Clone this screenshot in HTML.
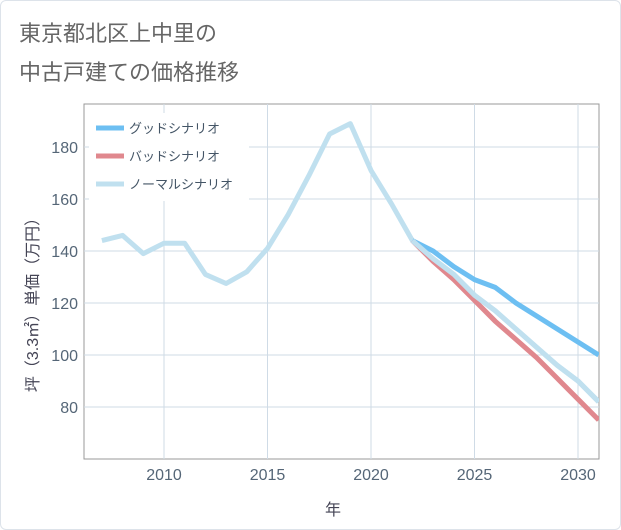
<!DOCTYPE html>
<html><head><meta charset="utf-8"><style>
body{margin:0;background:#fff;font-family:"Liberation Sans","Noto Sans CJK JP",sans-serif;}
#wrap{position:relative;width:619px;height:528px;border:1px solid #dde3ea;border-radius:6px;overflow:hidden;}
</style></head><body>
<div id="wrap">
<svg id="chart" width="621" height="530">
<text x="18" y="40" font-size="22" fill="#666">東京都北区上中里の</text>
<text x="18" y="79" font-size="22" fill="#666">中古戸建ての価格推移</text>
<g id="grid"></g>
<g id="series"></g>
<g id="legend"></g>
<text x="332" y="514" font-size="16" fill="#445" text-anchor="middle">年</text>
<text transform="translate(37,300) rotate(-90)" font-size="16" fill="#445" text-anchor="middle">坪（3.3㎡）単価（万円）</text>
</svg>
</div>
<script>
const years=[2007,2008,2009,2010,2011,2012,2013,2014,2015,2016,2017,2018,2019,2020,2021,2022,2023,2024,2025,2026,2027,2028,2029,2030,2031];
const normal=[144,146,139,143,143,131,127.5,132,141,154,169,185,189,171,158,144,137,131,123,117,110,103,96,90,82];
const fYears=[2022,2023,2024,2025,2026,2027,2028,2029,2030,2031];
const good=[144,140,134,129,126,120,115,110,105,100];
const bad=[144,136,129,121,113,106,99,91,83,75];
const xTicks=[2010,2015,2020,2025,2030];
const yTicks=[80,100,120,140,160,180];
const seriesNames=["グッドシナリオ","バッドシナリオ","ノーマルシナリオ"];
const ns="http://www.w3.org/2000/svg";
const L=83,R=598,T=103,B=458;
const x=v=>163+(v-2010)*(577-163)/20;
const y=v=>406-(v-80)*2.6;
function mk(tag,attrs,parent){const e=document.createElementNS(ns,tag);for(const k in attrs)e.setAttribute(k,attrs[k]);parent.appendChild(e);return e;}
const grid=document.getElementById('grid');
let r=mk('rect',{x:L,y:T,width:R-L,height:B-T,fill:'#fff',stroke:'#999','stroke-width':1},grid);


xTicks.forEach(t=>{
 let l=mk('line',{x1:x(t),x2:x(t),y1:T,y2:B,stroke:'#cfdbe6'},grid);
 
 
 let tx=mk('text',{x:x(t),y:B+21,'font-size':16,fill:'#556677','text-anchor':'middle'},grid);tx.textContent=t;
 
 
});
yTicks.forEach(t=>{
 let l=mk('line',{x1:L,x2:R,y1:y(t),y2:y(t),stroke:'#cfdbe6'},grid);
 
 
 let tx=mk('text',{x:L-6,y:y(t)+6,'font-size':16,fill:'#556677','text-anchor':'end'},grid);tx.textContent=t;
 
 
});
const sg=document.getElementById('series');
const cp=mk('clipPath',{id:'cp'},sg);mk('rect',{x:L,y:T,width:R-L,height:B-T},cp);
function line(xs,ys,color,name){
 let p=mk('polyline',{points:xs.map((v,i)=>x(v)+','+y(ys[i])).join(' '),fill:'none',stroke:color,'stroke-width':5,'stroke-linejoin':'round','clip-path':'url(#cp)'},sg);
 
 
}
line(years,normal,'#c0e0ef','normal-line');
line(fYears,bad,'#e0888e','bad-line');
line(fYears,good,'#6dbff2','good-line');
line(fYears,normal.slice(15),'#c0e0ef','normal-forecast-line');
const lg=document.getElementById('legend');
let bg=mk('rect',{x:88,y:112,width:160,height:88,fill:'#fff'},lg);


const cols=['#6dbff2','#e0888e','#c0e0ef'];
seriesNames.forEach((n,i)=>{
 let yy=127+i*28;
 let s=mk('line',{x1:95,x2:123,y1:yy,y2:yy,stroke:cols[i],'stroke-width':5},lg);
 
 
 let t=mk('text',{x:128,y:yy+5,'font-size':13,fill:'#445566'},lg);t.textContent=n;
 
 
});
</script>
</body></html>
